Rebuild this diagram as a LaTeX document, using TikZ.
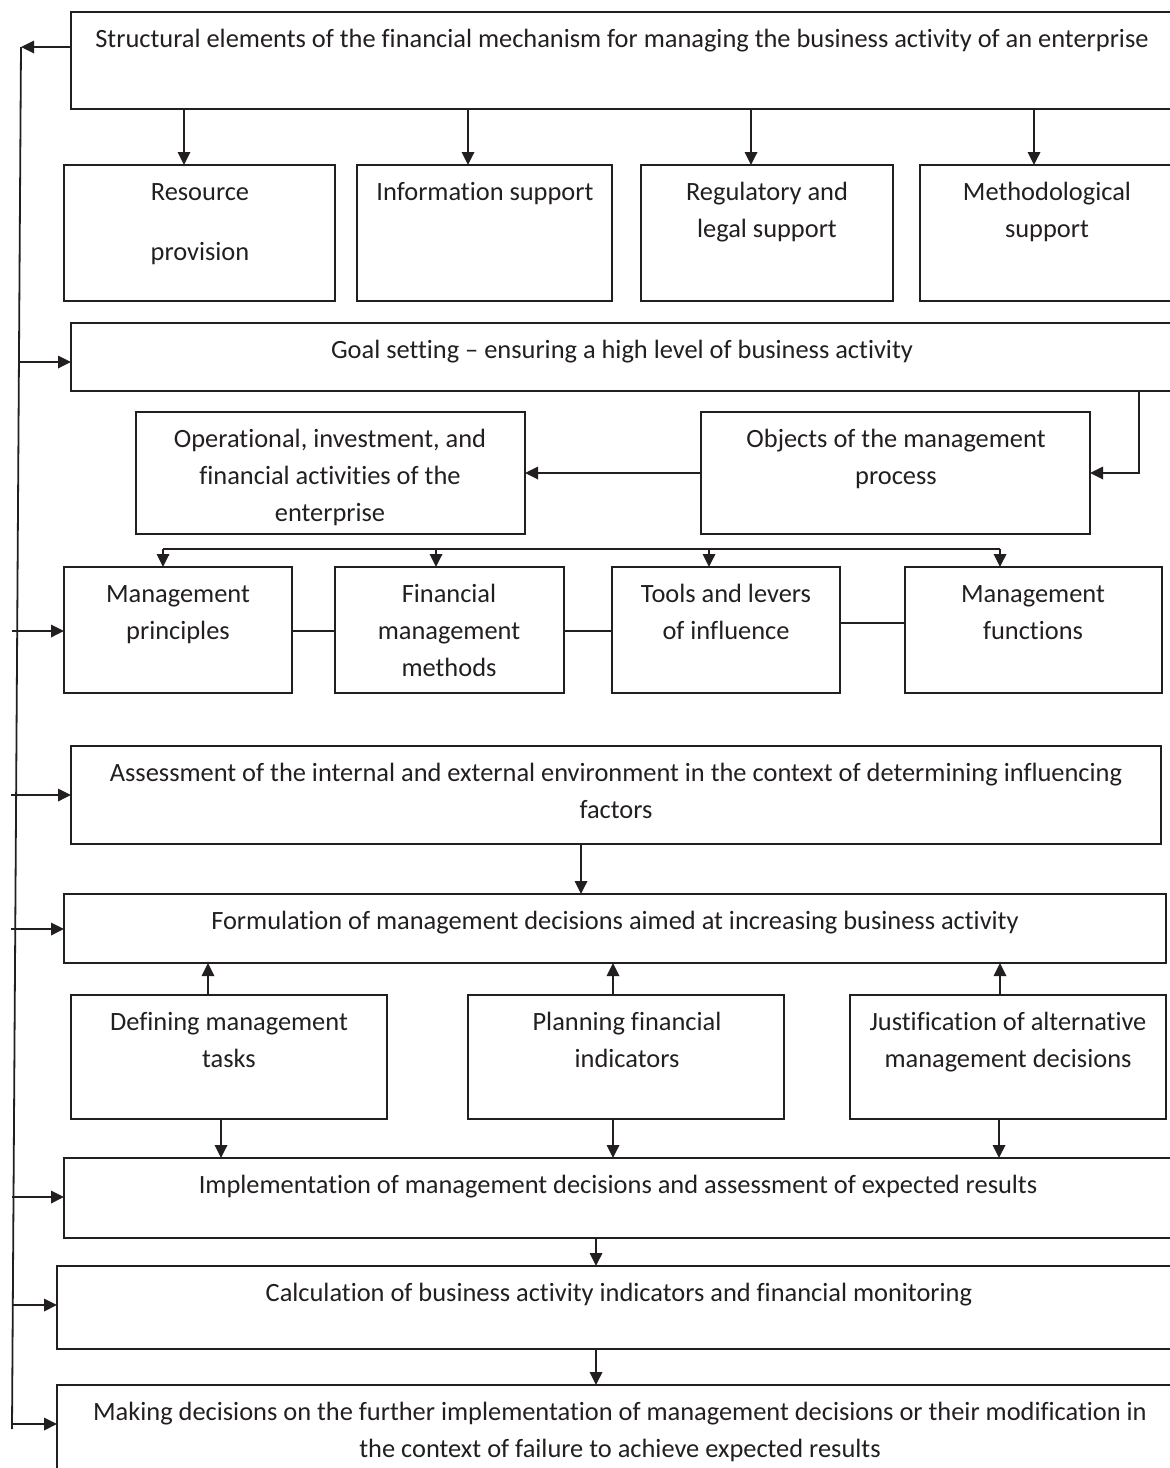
\documentclass[tikz,border=0pt]{standalone}
\usepackage{fontspec}
\setmainfont{Carlito}[Ligatures=NoCommon]
\usetikzlibrary{arrows.meta}
\definecolor{ink}{HTML}{231F20}
\newcommand\mybox[7]{%
  \node[box, anchor=north west, minimum width={#4-#2}, minimum height={#5-#3}] (#1) at (#2,#3) {};
  \node[txt] (#1-t) at (#6,#3+9.1) {\strut #7};
}
\begin{document}
\begin{tikzpicture}[x=1pt,y=-1pt,
  box/.style={draw=ink, line width=1.4pt, inner sep=0pt, outer sep=0pt, fill=none},
  txt/.style={anchor=north, inner sep=0pt, outer sep=0pt, align=center, text=ink, font=\fontsize{26.4}{37}\selectfont},
  arr/.style={draw=ink, line width=1.8pt, -{Triangle[length=13pt,width=12.5pt]}},
  ln/.style={draw=ink, line width=1.8pt}]
\useasboundingbox (0,0) rectangle (1170,1468);
\clip (0,0) rectangle (1170,1468);
\fill[white] (0,0) rectangle (1170,1468);

\mybox{top}{71}{12}{1185}{109}{622}{Structural elements of the financial mechanism for managing the business activity of an enterprise}
\mybox{res}{64}{165}{335}{301}{200}{Resource\\[23pt]provision}
\mybox{info}{357}{165}{612}{301}{485}{Information support}
\mybox{reg}{641}{165}{893}{301}{767}{Regulatory and\\legal support}
\mybox{meth}{920}{165}{1185}{301}{1047}{Methodological\\support}
\mybox{goal}{71}{323}{1185}{391}{622}{Goal setting -- ensuring a high level of business activity}
\mybox{oper}{136}{412}{525}{534}{330}{Operational, investment, and\\financial activities of the\\enterprise}
\mybox{obj}{701}{412}{1090}{534}{896}{Objects of the management\\process}
\mybox{prin}{64}{567}{292}{693}{178}{Management\\principles}
\mybox{fmm}{335}{567}{564}{693}{449}{Financial\\management\\methods}
\mybox{tools}{612}{567}{840}{693}{726}{Tools and levers\\of influence}
\mybox{func}{905}{567}{1162}{693}{1033}{Management\\functions}
\mybox{assess}{71}{746}{1161}{844}{616}{Assessment of the internal and external environment in the context of determining influencing\\factors}
\mybox{form}{64}{894}{1166}{963}{615}{Formulation of management decisions aimed at increasing business activity}
\mybox{def}{71}{995}{387}{1119}{229}{Defining management\\tasks}
\mybox{plan}{468}{995}{784}{1119}{627}{Planning financial\\indicators}
\mybox{just}{850}{995}{1166}{1119}{1008}{Justification of alternative\\management decisions}
\mybox{impl}{64}{1158}{1185}{1238}{618}{Implementation of management decisions and assessment of expected results}
\mybox{calc}{57}{1266}{1185}{1349}{619}{Calculation of business activity indicators and financial monitoring}
\mybox{make}{57}{1385}{1185}{1490}{620}{Making decisions on the further implementation of management decisions or their modification in\\the context of failure to achieve expected results}

% feedback line on the left
\coordinate (lt) at (21,47);
\coordinate (lb) at (12,1429);
\draw[ln] (lt) -- (lb);
\draw[arr] (top.west |- lt) -- (lt);
\coordinate (l1) at (19,362);
\coordinate (l2) at (12,631);
\coordinate (l3) at (11,795);
\coordinate (l4) at (11,929);
\coordinate (l5) at (12,1197);
\coordinate (l6) at (12,1305);
\coordinate (l7) at (12,1424);
\draw[arr] (l1) -- (l1 -| goal.west);
\draw[arr] (l2) -- (l2 -| prin.west);
\draw[arr] (l3) -- (l3 -| assess.west);
\draw[arr] (l4) -- (l4 -| form.west);
\draw[arr] (l5) -- (l5 -| impl.west);
\draw[arr] (l6) -- (l6 -| calc.west);
\draw[arr] (l7) -- (l7 -| make.west);

% top to support boxes
\draw[arr] (top.south -| 184,0) -- (res.north -| 184,0);
\draw[arr] (top.south -| 468,0) -- (info.north -| 468,0);
\draw[arr] (top.south -| 751,0) -- (reg.north -| 751,0);
\draw[arr] (top.south -| 1034,0) -- (meth.north -| 1034,0);

% goal to objects, objects to operational
\draw[arr] (goal.south -| 1139,0) |- (obj.east);
\draw[arr] (obj.west) -- (oper.east);

% bus
\coordinate (b1) at (163,549);
\coordinate (b2) at (436,549);
\coordinate (b3) at (709,549);
\coordinate (b4) at (1000,549);
\draw[ln] (b1) -- (b4);
\draw[arr] (b1) -- (b1 |- prin.north);
\draw[arr] (b2) -- (b2 |- fmm.north);
\draw[arr] (b3) -- (b3 |- tools.north);
\draw[arr] (b4) -- (b4 |- func.north);

% row links
\draw[ln] (prin.east |- 0,631) -- (fmm.west |- 0,631);
\draw[ln] (fmm.east |- 0,631) -- (tools.west |- 0,631);
\draw[ln] (tools.east |- 0,623) -- (func.west |- 0,623);

% assessment -> formulation
\draw[arr] (assess.south -| 581,0) -- (form.north -| 581,0);

% row 3 up to formulation
\draw[arr] (def.north -| 208,0) -- (form.south -| 208,0);
\draw[arr] (plan.north -| 613,0) -- (form.south -| 613,0);
\draw[arr] (just.north -| 1000,0) -- (form.south -| 1000,0);
% row 3 down to implementation
\draw[arr] (def.south -| 221,0) -- (impl.north -| 221,0);
\draw[arr] (plan.south -| 613,0) -- (impl.north -| 613,0);
\draw[arr] (just.south -| 999,0) -- (impl.north -| 999,0);

\draw[arr] (impl.south -| 596,0) -- (calc.north -| 596,0);
\draw[arr] (calc.south -| 596,0) -- (make.north -| 596,0);
\end{tikzpicture}
\end{document}
